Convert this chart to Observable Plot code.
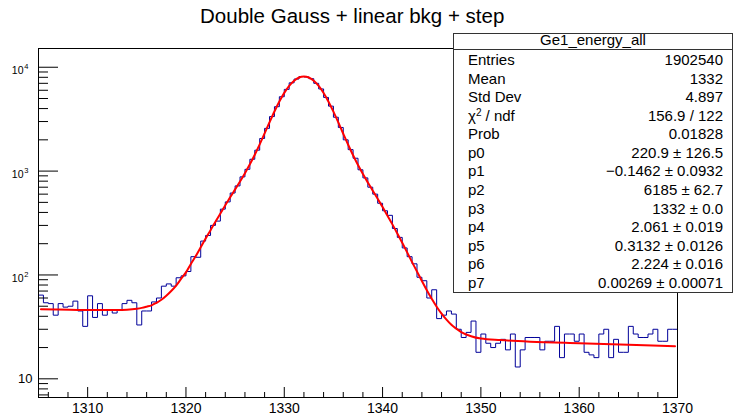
<!DOCTYPE html>
<html>
<head>
<meta charset="utf-8">
<script src="https://cdn.jsdelivr.net/npm/d3@7"></script>
<script src="https://cdn.jsdelivr.net/npm/@observablehq/plot@0.6"></script>
<style>
  body { margin: 0; background: #fff; }
  #wrap { position: relative; width: 733px; height: 417px; overflow: hidden;
          font-family: "Liberation Sans", Arial, Helvetica, sans-serif; color: #000; }
  #wrap svg { position: absolute; left: 0; top: 0; }
  #stats { position: absolute; left: 453px; top: 33px; width: 278px; height: 258px;
           border: 1px solid #333; background: #fff; font-size: 15px; line-height: 15px; }
  #stats .sep { position: absolute; left: 0; right: 0; top: 15px; height: 1px; background: #333; }
  #stats .row { position: absolute; left: 0; right: 0; height: 15px; white-space: nowrap; }
  #stats .lab { position: absolute; left: 14px; }
  #stats .val { position: absolute; right: 9px; }
  #stats .ttl { position: absolute; left: 0; right: 0; text-align: center; }
  sup { font-size: 10px; line-height: 0; vertical-align: 5px; }
</style>
</head>
<body>
<div id="wrap"></div>
<script>
// ---- data ----
const chartTitle = "Double Gauss + linear bkg + step";
const histName = "Ge1_energy_all";
const binStart = 1305;
const binWidth = 0.5;
const counts = [
  64, 54, 53, 41, 53, 49, 50, 56, 45, 32,
  63, 39, 53, 41, 46, 43, 46, 53, 57, 54,
  33, 45, 45, 55, 60, 78, 82, 78, 94, 98,
  108, 150, 148, 212, 240, 300, 330, 430, 505, 615,
  720, 880, 1040, 1300, 1590, 2060, 2580, 3350, 4170, 5200,
  6120, 7080, 7700, 8140, 8060, 7760, 7000, 6180, 5120, 4220,
  3300, 2630, 2000, 1610, 1330, 1030, 860, 700, 600, 490,
  415, 375, 280, 230, 182, 150, 128, 95, 88, 60,
  72, 38, 41, 45, 42, 30, 25, 28, 36, 18,
  27, 22, 20, 22, 24, 19, 27, 13, 19, 25,
  25, 25, 19, 23, 23, 32, 16, 27, 27, 23,
  27, 18, 17, 16, 27, 30, 16, 24, 18, 18,
  32, 27, 25, 25, 27, 30, 23, 23, 30, 30
];
const fitE = [
  1305.25, 1307, 1309, 1311, 1313, 1314, 1315, 1315.5, 1316, 1316.5,
  1317, 1317.5, 1318, 1318.5, 1319, 1319.5, 1320, 1320.5, 1321, 1321.5,
  1322, 1322.5, 1323, 1323.5, 1324, 1324.5, 1325, 1325.5, 1326, 1326.5,
  1327, 1327.5, 1328, 1328.5, 1329, 1329.5, 1330, 1330.5, 1331, 1331.5,
  1332, 1332.5, 1333, 1333.5, 1334, 1334.5, 1335, 1335.5, 1336, 1336.5,
  1337, 1337.5, 1338, 1338.5, 1339, 1339.5, 1340, 1340.5, 1341, 1341.5,
  1342, 1342.5, 1343, 1343.5, 1344, 1344.5, 1345, 1345.5, 1346, 1346.5,
  1347, 1347.5, 1348, 1349, 1350, 1352, 1355, 1360, 1365, 1369.75
];
const fitV = [
  46.7, 46.4, 46.1, 46.0, 46.0, 46.3, 47.3, 48.2, 49.5, 51,
  54, 57.7, 63, 70, 79, 91.6, 106, 127.8, 152, 184.5,
  224, 270, 326, 390, 470, 559, 667, 795, 955, 1162,
  1438, 1809, 2306, 2952, 3748, 4674, 5662, 6620, 7427, 7967,
  8157, 7965, 7422, 6613, 5653, 4662, 3735, 2937, 2290, 1792,
  1420, 1144, 937, 777, 648, 541, 451, 372, 307, 251,
  204, 165, 133, 108, 87.4, 71.4, 59, 49.5, 42.4, 37.1,
  33.1, 30.4, 28.2, 25.7, 24.4, 23.6, 22.8, 22.0, 21.3, 20.6
];
const xMajorTicks = [1310, 1320, 1330, 1340, 1350, 1360, 1370];
const xMinorTicks = [1306, 1308, 1312, 1314, 1316, 1318, 1322, 1324, 1326, 1328,
  1332, 1334, 1336, 1338, 1342, 1344, 1346, 1348, 1352, 1354, 1356, 1358,
  1362, 1364, 1366, 1368];
const yMajorTicks = [10, 100, 1000, 10000];
const yMinorTicks = [7, 8, 9, 20, 30, 40, 50, 60, 70, 80, 90,
  200, 300, 400, 500, 600, 700, 800, 900,
  2000, 3000, 4000, 5000, 6000, 7000, 8000, 9000];
const yPlainLabelTicks = [10];
const yPowerLabelTicks = [100, 1000, 10000];
const yPowerExponents = ["2", "3", "4"];
const statLabels = ["Entries", "Mean", "Std Dev", "χ<sup>2</sup> / ndf", "Prob",
  "p0", "p1", "p2", "p3", "p4", "p5", "p6", "p7"];
const statValues = ["1902540", "1332", "4.897", "156.9 / 122", "0.01828",
  "220.9 ± 126.5", "\u22120.1462 ± 0.0932", "6185 ± 62.7", "1332 ± 0.0",
  "2.061 ± 0.019", "0.3132 ± 0.0126", "2.224 ± 0.016", "0.00269 ± 0.00071"];

// ---- tables built from the arrays ----
const histPts = [];
counts.forEach((c, i) => {
  const lo = binStart + i * binWidth;
  histPts.push({x: lo, y: c});
  histPts.push({x: lo + binWidth, y: c});
});
const fitPts = fitE.map((e, i) => ({x: e, y: fitV[i]}));

const W = 733, H = 417;
const mL = 38, mR = 56, mT = 48, mB = 20;
const frameW = W - mL - mR, frameH = H - mT - mB;
const font = '"Liberation Sans", Arial, Helvetica, sans-serif';

const svg = Plot.plot({
  width: W, height: H,
  marginLeft: mL, marginRight: mR, marginTop: mT, marginBottom: mB,
  style: {fontFamily: font, background: "transparent", color: "#000", overflow: "visible"},
  x: {domain: [1305, 1370]},
  y: {type: "log", domain: [6.61, 15150], axis: null},
  marks: [
    Plot.line(histPts, {x: "x", y: "y", stroke: "#000099", strokeWidth: 1}),
    Plot.line(fitPts, {x: "x", y: "y", stroke: "#ff0000", strokeWidth: 2, curve: "monotone-x"}),
    Plot.frame({stroke: "#000", strokeWidth: 1}),
    Plot.ruleY(yMajorTicks, {stroke: "#000", insetRight: frameW - 20}),
    Plot.ruleY(yMinorTicks, {stroke: "#000", insetRight: frameW - 10}),
    Plot.ruleX(xMajorTicks, {stroke: "#000", insetTop: frameH - 10}),
    Plot.ruleX(xMinorTicks, {stroke: "#000", insetTop: frameH - 5}),
    Plot.axisX({ticks: xMajorTicks, tickSize: 0, tickPadding: 6, fontSize: 14,
                tickFormat: d => String(d), label: null}),
    Plot.text(yPlainLabelTicks, {y: d => d, text: () => "10", frameAnchor: "left",
      textAnchor: "end", dx: -6, fontSize: 13, lineAnchor: "middle"}),
    Plot.text(yPowerLabelTicks, {y: d => d, text: () => "10", frameAnchor: "left",
      textAnchor: "end", dx: -15, dy: 3.5, fontSize: 10.5, lineAnchor: "middle"}),
    Plot.text(yPowerLabelTicks, {y: d => d, text: yPowerExponents, frameAnchor: "left",
      textAnchor: "start", dx: -14.3, dy: -0.3, fontSize: 7.5, lineAnchor: "middle"}),
    Plot.text([chartTitle], {text: d => d, frameAnchor: "top", lineAnchor: "bottom",
      dx: -5.8, dy: 22.7 - mT, fontSize: 20.5})
  ]
});

const wrap = document.getElementById("wrap");
wrap.appendChild(svg);

// ---- statistics box ----
const stats = document.createElement("div");
stats.id = "stats";
const sep = document.createElement("div");
sep.className = "sep";
stats.appendChild(sep);
const originY = 34; // inner top of the box
const ascent = 12.7;
const ttl = document.createElement("div");
ttl.className = "ttl";
ttl.style.top = (45 - ascent - originY) + "px";
ttl.textContent = histName;
stats.appendChild(ttl);
statLabels.forEach((lab, i) => {
  const row = document.createElement("div");
  row.className = "row";
  row.style.top = (65 + 18.53 * i - ascent - originY) + "px";
  const l = document.createElement("span");
  l.className = "lab";
  l.innerHTML = lab;
  const v = document.createElement("span");
  v.className = "val";
  v.textContent = statValues[i];
  row.appendChild(l);
  row.appendChild(v);
  stats.appendChild(row);
});
wrap.appendChild(stats);
</script>
</body>
</html>
